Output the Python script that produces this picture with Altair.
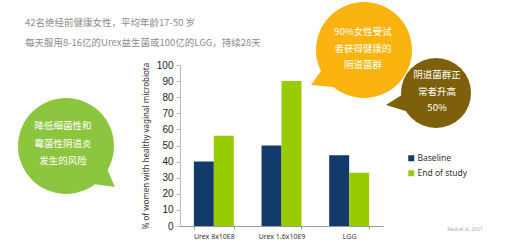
import altair as alt
import pandas as pd

# ---- data ----
categories = ["Urex 8x10E8", "Urex 1.6x10E9", "LGG"]
series = ["Baseline", "End of study"]
baseline_values = [40, 50, 44]
end_values = [56, 90, 33]
y_ticks = [0, 10, 20, 30, 40, 50, 60, 70, 80, 90, 100]
y_title = "% of women with healthy vaginal microbiota"

header_lines = ["42名绝经前健康女性，平均年龄17-50 岁",
                "每天服用8-16亿的Urex益生菌或100亿的LGG，持续28天"]
green_lines = ["降低细菌性和", "霉菌性阴道炎", "发生的风险"]
orange_lines = ["90%女性受试", "者获得健康的", "阴道菌群"]
brown_lines = ["阴道菌群正", "常者升高", "50%"]
citation = "Reid et al. 2001"

rows = []
for c, b, e in zip(categories, baseline_values, end_values):
    rows.append({"category": c, "series": series[0], "value": b})
    rows.append({"category": c, "series": series[1], "value": e})
df = pd.DataFrame(rows)
one = pd.DataFrame({"k": [0]})

NAVY = "#123a6b"
LIME = "#99cc00"
GREEN_B = "#8cc63f"
ORANGE_B = "#fbb40f"
BROWN_B = "#7e600a"
CJK = "Noto Sans CJK SC"

PW, PH = 203, 161
OX, OY = 180, 65  # plot origin in page pixels

bars = alt.Chart(df).mark_bar().encode(
    x=alt.X("category:N", sort=categories,
            scale=alt.Scale(paddingInner=0.41, paddingOuter=0.205),
            axis=alt.Axis(title=None, labelAngle=0, labelFontSize=7, labelFont="Noto Sans",
                          labelColor="#333333", domainColor="#999999", tickColor="#999999",
                          tickSize=3, tickBand="extent", labelPadding=3)),
    xOffset=alt.XOffset("series:N", sort=series, scale=alt.Scale(paddingInner=0, paddingOuter=0)),
    y=alt.Y("value:Q", scale=alt.Scale(domain=[0, 100], nice=False),
            axis=alt.Axis(values=y_ticks, title=y_title, grid=False, labelFontSize=10,
                          labelFont="Liberation Sans", labelColor="#222222",
                          domainColor="#bbbbbb", tickColor="#bbbbbb", tickSize=4,
                          labelPadding=3, titleFontSize=8, titleFont="Noto Sans",
                          titleFontWeight="normal", titleColor="#333333", titlePadding=6)),
    color=alt.Color("series:N", sort=series,
                    scale=alt.Scale(domain=series, range=[NAVY, LIME]),
                    legend=alt.Legend(title=None, orient="none", legendX=227, legendY=89,
                                      symbolType="square", symbolSize=36, symbolStrokeWidth=0,
                                      labelFont="Noto Sans", labelFontSize=8.5,
                                      labelColor="#333333", rowPadding=6, labelOffset=2,
                                      padding=0)),
)

def bubble(cx, cy, r, color, tail_path, lines, tx, ty, lh):
    px, py = cx - OX, cy - OY
    circ = alt.Chart(one).mark_circle(size=(2 * r) ** 2, color=color, opacity=1).encode(
        x=alt.value(px), y=alt.value(py))
    tail = alt.Chart(one).mark_point(shape=tail_path, size=4, filled=True, color=color,
                                     opacity=1, strokeWidth=0).encode(
        x=alt.value(px), y=alt.value(py))
    txt = alt.Chart(one).mark_text(text=lines, font=CJK, fontSize=9.5, color="white",
                                   align="center", baseline="middle", lineHeight=lh).encode(
        x=alt.value(tx - OX), y=alt.value(ty - OY))
    return [circ, tail, txt]

layers = [bars]
layers += bubble(66, 146, 48, GREEN_B, "M38,16L49,41L20,37Z", green_lines, 63, 126, 17.5)
layers += bubble(364, 50, 48, ORANGE_B, "M-38,14L-53,35L-20,38Z", orange_lines, 363, 32, 16.5)
layers += bubble(436, 93, 35, BROWN_B, "M-28,-2L-50,12L-24,20Z", brown_lines, 437, 75, 16.5)

header = alt.Chart(one).mark_text(text=header_lines, font=CJK, fontSize=9.5, color="#8c8c8c",
                                  align="left", baseline="middle", lineHeight=20).encode(
    x=alt.value(25 - OX), y=alt.value(23 - OY))
cite = alt.Chart(one).mark_text(text=citation, font="Noto Sans", fontSize=5, color="#aaaaaa",
                                align="center", baseline="middle").encode(
    x=alt.value(465 - OX), y=alt.value(229 - OY))
layers += [header, cite]

chart = alt.layer(*layers).properties(
    width=PW, height=PH,
    autosize=alt.AutoSizeParams(type="none"),
    padding={"left": OX, "top": OY, "right": 505 - OX - PW, "bottom": 242 - OY - PH},
    background="white",
).configure_view(stroke=None)

chart.save("out.html", embed_options={"renderer": "svg", "actions": False})
